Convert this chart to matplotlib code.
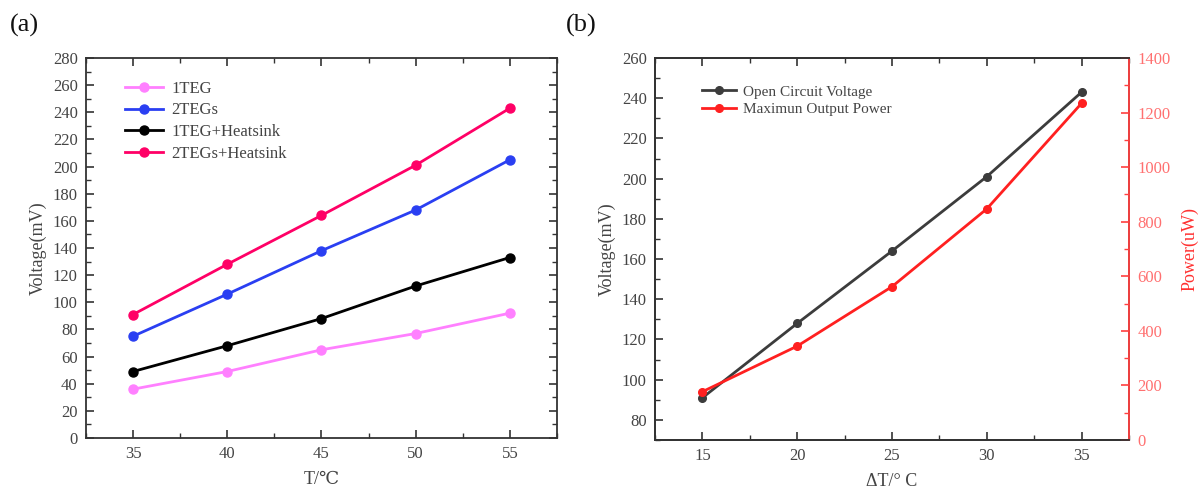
import matplotlib
matplotlib.use('Agg')
import matplotlib.pyplot as plt
from matplotlib.ticker import MultipleLocator

plt.rcParams['font.family'] = ['Liberation Serif', 'DejaVu Serif']

# panel (a)
temp_a = [35, 40, 45, 50, 55]
v_1teg = [36, 49, 65, 77, 92]
v_2tegs = [75, 106, 138, 168, 205]
v_1teg_hs = [49, 68, 88, 112, 133]
v_2tegs_hs = [91, 128, 164, 201, 243]
labels_a = ['1TEG', '2TEGs', '1TEG+Heatsink', '2TEGs+Heatsink']
colors_a = ['#ff80ff', '#2a3ff2', '#000000', '#ff0066']

# panel (b)
dt_b = [15, 20, 25, 30, 35]
v_open = [91, 128, 164, 201, 243]
p_max = [177, 344, 562, 847, 1234]

TXT = '#444444'
SPINE = '#333333'


def style_ax(ax):
    for s in ax.spines.values():
        s.set_color(SPINE)
        s.set_linewidth(1.3)
    ax.tick_params(which='both', direction='in', colors=SPINE, labelcolor=TXT,
                   labelsize=12, pad=6)
    ax.tick_params(which='major', length=6, width=1.2)
    ax.tick_params(which='minor', length=3.5, width=1.0)


fig = plt.figure(figsize=(11.99, 4.91), dpi=100)

# ---- (a)
ax1 = fig.add_axes([0.0717, 0.1079, 0.3928, 0.774])
series = [v_1teg, v_2tegs, v_1teg_hs, v_2tegs_hs]
for ys, lab, c in zip(series, labels_a, colors_a):
    ax1.plot(temp_a, ys, '-o', color=c, lw=2, ms=6.5, label=lab)
ax1.set_xlim(32.5, 57.5)
ax1.set_ylim(0, 280)
ax1.xaxis.set_major_locator(MultipleLocator(5))
ax1.xaxis.set_minor_locator(MultipleLocator(2.5))
ax1.yaxis.set_major_locator(MultipleLocator(20))
ax1.yaxis.set_minor_locator(MultipleLocator(10))
style_ax(ax1)
ax1.tick_params(which='both', top=True, right=True)
ax1.set_xlabel('T/℃', fontsize=13, color=TXT, labelpad=6)
ax1.set_ylabel('Voltage(mV)', fontsize=13, color=TXT, labelpad=4)
leg = ax1.legend(loc='upper left', bbox_to_anchor=(0.05, 0.98), frameon=False,
                 fontsize=12, handlelength=2.3, labelspacing=0.35,
                 handletextpad=0.5)
for t in leg.get_texts():
    t.set_color(TXT)
fig.text(0.008, 0.935, '(a)', fontsize=19, color='#111111')

# ---- (b)
ax2 = fig.add_axes([0.5463, 0.1039, 0.3953, 0.778])
l1, = ax2.plot(dt_b, v_open, '-o', color='#3c3c3c', lw=2, ms=5.5,
               label='Open Circuit Voltage')
ax2.set_xlim(12.5, 37.5)
ax2.set_ylim(70, 260)
ax2.xaxis.set_major_locator(MultipleLocator(5))
ax2.xaxis.set_minor_locator(MultipleLocator(2.5))
ax2.yaxis.set_major_locator(MultipleLocator(20))
ax2.yaxis.set_minor_locator(MultipleLocator(10))
style_ax(ax2)
ax2.tick_params(which='both', top=True, right=False)
ax2.set_xlabel('ΔT/° C', fontsize=13, color=TXT, labelpad=6)
ax2.set_ylabel('Voltage(mV)', fontsize=13, color=TXT, labelpad=4)

ax3 = ax2.twinx()
l2, = ax3.plot(dt_b, p_max, '-o', color='#ff2020', lw=2, ms=5.5,
               label='Maximun Output Power')
ax3.set_ylim(0, 1400)
ax3.yaxis.set_major_locator(MultipleLocator(200))
ax3.yaxis.set_minor_locator(MultipleLocator(100))
style_ax(ax3)
ax3.spines['right'].set_color('#ff4040')
ax3.tick_params(axis='y', which='both', colors='#ff4040', labelcolor='#ff7070')
ax3.set_ylabel('Power(uW)', fontsize=13, color='#ff3030', labelpad=8)

leg2 = ax2.legend(handles=[l1, l2], loc='upper left',
                  bbox_to_anchor=(0.07, 0.965), frameon=False, fontsize=11,
                  handlelength=2.2, labelspacing=0.25, handletextpad=0.5)
for t in leg2.get_texts():
    t.set_color(TXT)
fig.text(0.472, 0.935, '(b)', fontsize=19, color='#111111')

fig.savefig('out.png', dpi=100)
